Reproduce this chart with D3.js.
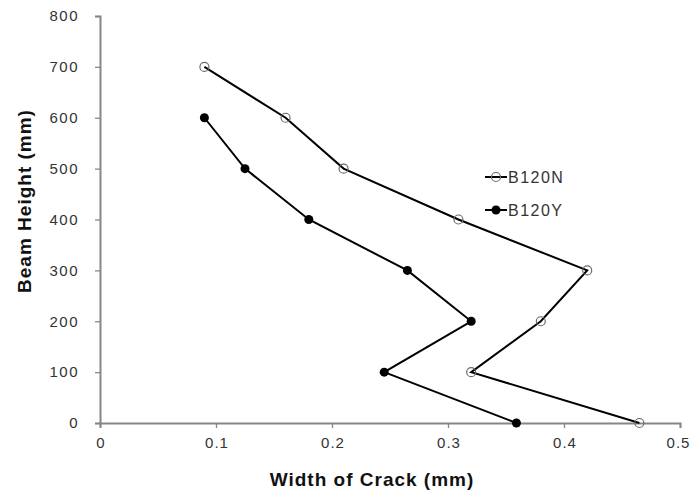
<!DOCTYPE html>
<html><head><meta charset="utf-8">
<script src="https://cdn.jsdelivr.net/npm/d3@7"></script>
<style>body{margin:0;background:#fff;}svg{display:block;font-family:"Liberation Sans",Arial,sans-serif;}</style>
</head><body>
<svg id="c" width="691" height="495"></svg>
<script>
const seriesNames = ["B120N", "B120Y"];
const heightsN = [700, 600, 500, 400, 300, 200, 100, 0];
const widthsN = [0.09, 0.16, 0.21, 0.309, 0.42, 0.38, 0.32, 0.465];
const heightsY = [600, 500, 400, 300, 200, 100, 0];
const widthsY = [0.09, 0.125, 0.18, 0.265, 0.32, 0.245, 0.359];
const xTicks = [0, 0.1, 0.2, 0.3, 0.4, 0.5];
const yTicks = [0, 100, 200, 300, 400, 500, 600, 700, 800];
const xTitle = "Width of Crack (mm)";
const yTitle = "Beam Height (mm)";

const svg = d3.select("#c");
const x = d3.scaleLinear().domain([0, 0.5]).range([100, 680]);
const y = d3.scaleLinear().domain([0, 800]).range([423, 16]);

const xAxis = svg.append("g").attr("transform", `translate(0,${y(0)})`)
  .call(d3.axisBottom(x).tickValues(xTicks).tickSize(5).tickPadding(9).tickFormat(d => d === 0 ? "0" : d3.format(".1f")(d)));
const yAxis = svg.append("g").attr("transform", `translate(${x(0)},0)`)
  .call(d3.axisLeft(y).tickValues(yTicks).tickSize(5).tickPadding(16).tickFormat(d3.format("d")));
[xAxis, yAxis].forEach(a => {
  a.selectAll("path").attr("stroke", "#868686").attr("stroke-width", 2);
  a.selectAll("line").attr("stroke", "#868686").attr("stroke-width", 1.3);
  a.selectAll("text").attr("fill", "#333").attr("font-size", 15)
    .attr("font-family", '"Liberation Sans",Arial,sans-serif');
});
yAxis.selectAll("text").attr("letter-spacing", "1.5px");
xAxis.selectAll("text").attr("letter-spacing", "1px").attr("dx", d => d === 0.5 ? "-2px" : "0.5px");

const line = d3.line().x(d => x(d[0])).y(d => y(d[1]));
const dataN = widthsN.map((w, i) => [w, heightsN[i]]);
const dataY = widthsY.map((w, i) => [w, heightsY[i]]);

svg.append("path").datum(dataN).attr("d", line).attr("fill", "none").attr("stroke", "#000").attr("stroke-width", 2);
svg.append("path").datum(dataY).attr("d", line).attr("fill", "none").attr("stroke", "#000").attr("stroke-width", 2);

svg.selectAll(".mn").data(dataN).enter().append("circle")
  .attr("cx", d => x(d[0])).attr("cy", d => y(d[1])).attr("r", 4.5)
  .attr("fill", "none").attr("stroke", "#6a6a6a").attr("stroke-width", 1.2);
svg.selectAll(".my").data(dataY).enter().append("circle")
  .attr("cx", d => x(d[0])).attr("cy", d => y(d[1])).attr("r", 4.5)
  .attr("fill", "#000");

// legend
const leg = svg.append("g");
const ly = [177, 210];
seriesNames.forEach((name, i) => {
  leg.append("line").attr("x1", 485).attr("x2", 507).attr("y1", ly[i]).attr("y2", ly[i]).attr("stroke", "#000").attr("stroke-width", 2);
  if (i === 0) leg.append("circle").attr("cx", 496).attr("cy", ly[i]).attr("r", 4.5).attr("fill", "none").attr("stroke", "#6a6a6a").attr("stroke-width", 1.2);
  else leg.append("circle").attr("cx", 496).attr("cy", ly[i]).attr("r", 4.5).attr("fill", "#000");
  leg.append("text").attr("x", 508).attr("y", ly[i] + 6).attr("font-size", 16).attr("letter-spacing", "1.5px").attr("fill", "#333").text(name);
});

svg.append("text").attr("x", 372).attr("y", 486).attr("text-anchor", "middle")
  .attr("font-size", 19).attr("letter-spacing", "1px").attr("font-weight", "bold").attr("fill", "#111").text(xTitle);
svg.append("text").attr("transform", "translate(31,201) rotate(-90)").attr("text-anchor", "middle")
  .attr("font-size", 19).attr("letter-spacing", "1px").attr("font-weight", "bold").attr("fill", "#111").text(yTitle);
</script>
</body></html>
